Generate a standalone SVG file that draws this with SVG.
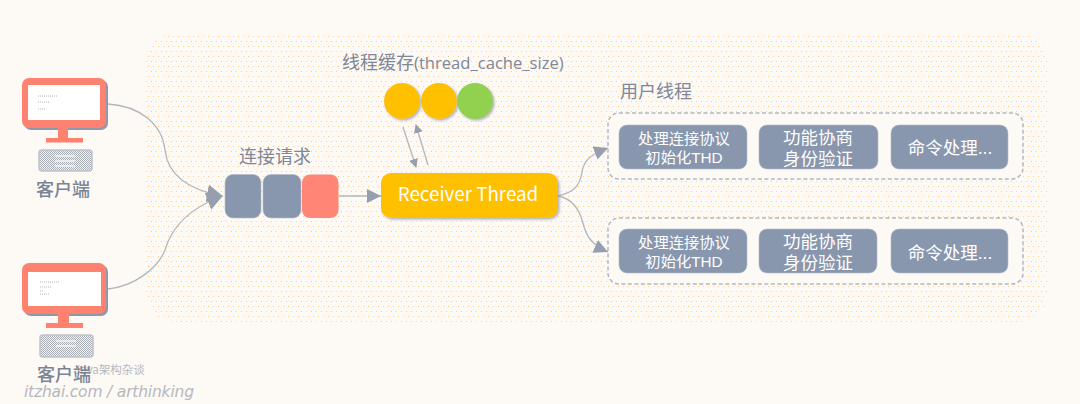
<svg xmlns="http://www.w3.org/2000/svg" width="1080" height="404" viewBox="0 0 1080 404">
<style>
text{font-family:"Noto Sans CJK SC","Open Sans","Noto Sans",sans-serif}
.lb{fill:#7f8798;font-size:18px}
.cl{fill:#7b8496;font-size:18px;font-weight:500}
.w{fill:#fff;font-size:15.3px;text-anchor:middle;font-family:"Liberation Sans","Noto Sans CJK SC",sans-serif}
.w2{fill:#fff;font-size:17.5px;text-anchor:middle;font-family:"Liberation Sans","Noto Sans CJK SC",sans-serif}
.box{fill:#8896ae;stroke:#b5bcc8;stroke-width:.6}
.grp{fill:#fdf9f5;stroke:#b4b8bf;stroke-width:1.5;stroke-dasharray:4 2.5}
.cn{fill:none;stroke:#b2b6bc;stroke-width:1.3}
.bez{fill:#ff8270}
.scr{fill:#fff}
.sc{fill:#8d98ac}
.tl{stroke:#b0b4ba;stroke-width:1;fill:none;stroke-dasharray:1 1}
.kb{fill:url(#kb);stroke:#bfc3c9;stroke-width:1.5}
.kl{stroke:#f4f4f3;stroke-width:1.5;fill:none}
</style>
<defs>
<pattern id="dots" width="10" height="10" patternUnits="userSpaceOnUse">
<rect x="1" y="1" width="1" height="1" fill="#fcc98a"/>
<rect x="6" y="1" width="1" height="1" fill="#fcd3a4"/>
<rect x="3" y="6" width="1" height="1" fill="#fcd3a4"/>
<rect x="8" y="6" width="1" height="1" fill="#fcc98a"/>
</pattern>
<pattern id="kb" width="2" height="2" patternUnits="userSpaceOnUse">
<rect width="2" height="2" fill="#f2f2f1"/>
<rect width="1" height="1" fill="#a9aeb5"/>
<rect x="1" y="1" width="1" height="1" fill="#a9aeb5"/>
</pattern>
<marker id="ah" markerWidth="16" markerHeight="18" refX="15" refY="9" orient="auto" markerUnits="userSpaceOnUse">
<path d="M0 0L16 9L0 18Z" fill="#979fae"/>
</marker>
<marker id="am" markerWidth="14" markerHeight="14" refX="14" refY="7" orient="auto" markerUnits="userSpaceOnUse">
<path d="M0 0L14 7L0 14Z" fill="#979fae"/>
</marker>
<marker id="as" markerWidth="9" markerHeight="9" refX="8" refY="4.5" orient="auto" markerUnits="userSpaceOnUse">
<path d="M0 0L9 4.5L0 9Z" fill="#979fae"/>
</marker>
<filter id="sh" x="-10%" y="-10%" width="125%" height="125%"><feDropShadow dx="1.5" dy="1.5" stdDeviation="1" flood-color="#8f96a3" flood-opacity=".7"/></filter>
</defs>
<rect width="1080" height="404" fill="#fdf9f5"/>
<rect id="panel" x="145" y="32" width="903" height="290" rx="30" fill="url(#dots)"/>
<g id="connectors">
<path class="cn" d="M108 104C140 106 162 124 165 150C168 176 190 190 222 196" marker-end="url(#ah)"/>
<path class="cn" d="M108 289C135 286 158 268 165 250C172 226 190 208 222 196" marker-end="url(#ah)"/>
<path class="cn" d="M339 196H381" marker-end="url(#am)"/>
<path class="cn" d="M403 127L416 167" marker-end="url(#as)" stroke-width="1"/>
<path class="cn" d="M428 165L416 125" marker-end="url(#as)" stroke-width="1"/>
<path class="cn" d="M558 196C575 192 580 185 582 172C584 160 590 155 608 148" marker-end="url(#am)"/>
<path class="cn" d="M558 196C572 199 579 208 583 223C586 236 592 245 608 252" marker-end="url(#am)"/>
</g>
<g id="client-1">
<rect x="24" y="80" width="84" height="50" rx="7" class="sc"/>
<rect x="22" y="78" width="84" height="50" rx="7" class="bez"/>
<rect x="28" y="85" width="72" height="35" class="scr"/>
<path d="M58 128h10v10h15v4.500H46V138h12z" class="bez"/>
<path d="M38 96h20M38 102h12M38 109h8" class="tl"/>
<rect x="39" y="150" width="53" height="21" rx="3" class="kb"/>
<path d="M55 156h20M55 161h20M55 166h20" class="kl"/>
<text x="36" y="196" class="cl">客户端</text>
</g>
<g id="watermark">
<text x="74" y="374" font-size="11.500" fill="#b5b8bc">Java架构杂谈</text>
<text x="24" y="397" font-size="15.500" fill="#b5b8bc" style="font-family:'DejaVu Sans',sans-serif;font-style:italic" textLength="170">itzhai.com / arthinking</text>
</g>
<g id="client-2">
<rect x="24" y="265" width="84" height="51" rx="7" class="sc"/>
<rect x="22" y="263" width="84" height="51" rx="7" class="bez"/>
<rect x="28" y="272" width="73" height="34" class="scr"/>
<path d="M58 314h11v9h14v5H46v-5h12z" class="bez"/>
<path d="M40 282h20M40 287h12M40 291h4M40 294h9" class="tl"/>
<rect x="40" y="335" width="53" height="22" rx="3" class="kb"/>
<path d="M56 341h20M56 346h20" class="kl"/>
<text x="37" y="381" class="cl">客户端</text>
</g>
<g id="queue">
<text x="239" y="163" class="lb">连接请求</text>
<rect x="225" y="174.500" width="36" height="43.500" rx="8" class="box"/>
<rect x="263" y="174.500" width="38" height="43.500" rx="8" class="box"/>
<rect x="302" y="174.500" width="36.500" height="43.500" rx="8" fill="#ff8676"/>
</g>
<g id="thread-cache">
<text x="342" y="69" class="lb">线程缓存<tspan font-size="16.600" style="font-family:'Open Sans',sans-serif">(thread_cache_size)</tspan></text>
<circle cx="402" cy="101" r="18" fill="#ffc000" filter="url(#sh)"/>
<circle cx="439" cy="101" r="18" fill="#ffc000" filter="url(#sh)"/>
<circle cx="475" cy="101" r="18" fill="#92d050" filter="url(#sh)"/>
</g>
<g id="receiver">
<rect x="381" y="173" width="177" height="45" rx="10" fill="#ffc000" filter="url(#sh)"/>
<text x="468" y="201" fill="#fff" font-size="18.800" text-anchor="middle">Receiver Thread</text>
</g>
<g id="user-threads-1">
<text x="620" y="97.500" class="lb">用户线程</text>
<rect x="608" y="113" width="415" height="66" rx="11" class="grp"/>
<rect x="619" y="125" width="128" height="44" rx="8" class="box"/>
<text x="684" y="144" class="w">处理连接协议</text>
<text x="684" y="163" class="w">初始化THD</text>
<rect x="759" y="125" width="119" height="44" rx="8" class="box"/>
<text x="818" y="144" class="w2">功能协商</text>
<text x="818" y="165" class="w2">身份验证</text>
<rect x="891" y="125" width="117" height="44" rx="8" class="box"/>
<text x="950" y="153.500" class="w2">命令处理...</text>
</g>
<g id="user-threads-2">
<rect x="608" y="218" width="415" height="66" rx="11" class="grp"/>
<rect x="619" y="229" width="128" height="44" rx="8" class="box"/>
<text x="684" y="248" class="w">处理连接协议</text>
<text x="684" y="267" class="w">初始化THD</text>
<rect x="759" y="229" width="118" height="44" rx="8" class="box"/>
<text x="818" y="248" class="w2">功能协商</text>
<text x="818" y="269" class="w2">身份验证</text>
<rect x="891" y="229" width="117" height="44" rx="8" class="box"/>
<text x="950" y="258.500" class="w2">命令处理...</text>
</g>
</svg>
